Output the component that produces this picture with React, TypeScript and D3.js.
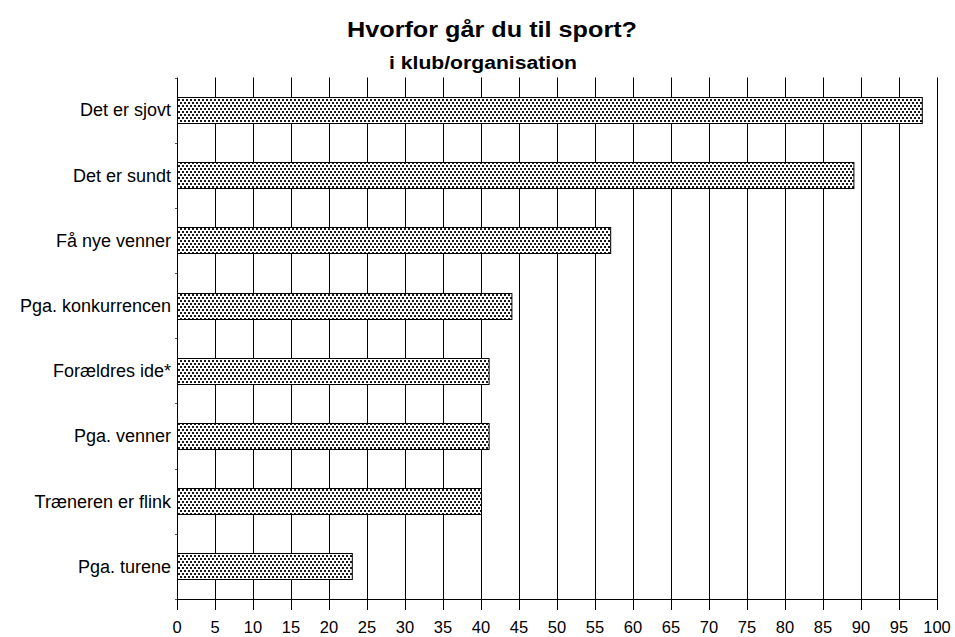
import React from 'react';
import * as d3 from 'd3';

const categories = [
  'Det er sjovt',
  'Det er sundt',
  'Få nye venner',
  'Pga. konkurrencen',
  'Forældres ide*',
  'Pga. venner',
  'Træneren er flink',
  'Pga. turene',
];
const values = [98, 89, 57, 44, 41, 41, 40, 23];
const xTicks = [0, 5, 10, 15, 20, 25, 30, 35, 40, 45, 50, 55, 60, 65, 70, 75, 80, 85, 90, 95, 100];

const title = 'Hvorfor går du til sport?';
const subtitle = 'i klub/organisation';

const W = 955;
const H = 637;
const left = 177;
const right = 937;
const top = 77.5;
const bottom = 599;
const font = 'Arial, "Liberation Sans", sans-serif';

export default function App() {
  const x = d3.scaleLinear().domain([0, 100]).range([left, right]);
  const y = d3
    .scaleBand<string>()
    .domain(categories)
    .range([top, bottom])
    .paddingInner(0.6)
    .paddingOuter(0.3);

  const step = y.step();
  const bounds = d3.range(categories.length + 1).map((i) => top + i * step);

  return (
    <svg
      width={W}
      height={H}
      style={{ position: 'absolute', left: 0, top: 0, background: '#fff' }}
      fontFamily={font}
    >
      <defs>
        <pattern id="dots" width={4} height={6} patternUnits="userSpaceOnUse">
          <rect width={4} height={6} fill="#fff" />
          <rect x={0} y={0} width={2} height={2} fill="#1a1a1a" />
          <rect x={2} y={3} width={2} height={2} fill="#1a1a1a" />
        </pattern>
      </defs>

      <text x={492} y={37} textAnchor="middle" fontSize={22} fontWeight="bold"
        textLength={290} lengthAdjust="spacingAndGlyphs">
        {title}
      </text>
      <text x={483} y={69} textAnchor="middle" fontSize={18} fontWeight="bold"
        textLength={188} lengthAdjust="spacingAndGlyphs">
        {subtitle}
      </text>

      {/* vertical gridlines */}
      {xTicks.map((t) => (
        <line
          key={'g' + t}
          x1={Math.round(x(t)) + 0.5}
          x2={Math.round(x(t)) + 0.5}
          y1={top}
          y2={bottom}
          stroke="#000"
          strokeWidth={1}
        />
      ))}

      {/* left axis ticks */}
      {bounds.map((b, i) => (
        <line key={'lt' + i} x1={left - 2} x2={left} y1={Math.round(b) + 0.5} y2={Math.round(b) + 0.5} stroke="#555" />
      ))}

      {/* bars */}
      {categories.map((c, i) => (
        <rect
          key={c}
          x={x(0) + 0.5}
          y={Math.round(y(c)!) + 0.5}
          width={x(values[i]) - x(0)}
          height={Math.round(y.bandwidth())}
          fill="url(#dots)"
          stroke="#000"
          strokeWidth={1}
        />
      ))}

      {/* bottom axis */}
      <line x1={left} x2={right + 1} y1={bottom + 0.5} y2={bottom + 0.5} stroke="#000" />
      {xTicks.map((t) => (
        <g key={'t' + t}>
          <line
            x1={Math.round(x(t)) + 0.5}
            x2={Math.round(x(t)) + 0.5}
            y1={bottom}
            y2={bottom + 11}
            stroke="#000"
          />
          <text x={x(t)} y={633} textAnchor="middle" fontSize={16.5}>
            {t}
          </text>
        </g>
      ))}

      {/* category labels */}
      {categories.map((c) => (
        <text
          key={'l' + c}
          x={left - 6}
          y={y(c)! + y.bandwidth() / 2}
          dy="0.35em"
          textAnchor="end"
          fontSize={18}
        >
          {c}
        </text>
      ))}
    </svg>
  );
}
